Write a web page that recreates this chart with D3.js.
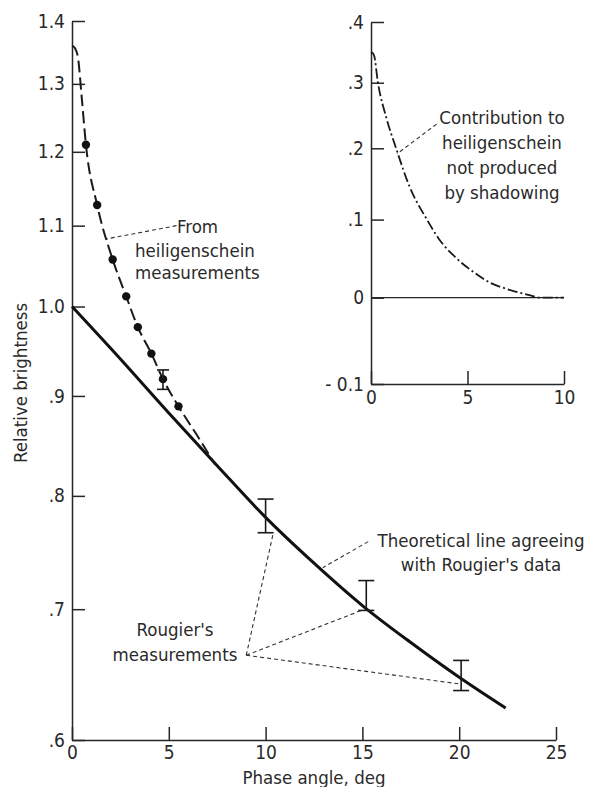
<!DOCTYPE html>
<html>
<head>
<meta charset="utf-8">
<script src="https://cdn.jsdelivr.net/npm/d3@7"></script>
<style>
  body { margin: 0; background: #fff; }
  text { font-family: "DejaVu Sans Condensed", "DejaVu Sans", sans-serif; fill: #2a2a2a; }
</style>
</head>
<body>
<div class="graphContainer"></div>
<script>
// main chart data (phase angle in deg, relative brightness)
var heiligPointX = [0.72, 1.3, 2.1, 2.8, 3.4, 4.1, 4.7, 5.5];
var heiligPointY = [1.21, 1.127, 1.057, 1.012, 0.976, 0.946, 0.918, 0.889];
var heiligCurveX = [0, 0.15, 0.3, 0.5, 0.72, 1.3, 2.1, 2.8, 3.4, 4.1, 4.7, 5.5, 6.4, 7.4];
var heiligCurveY = [1.36, 1.356, 1.343, 1.28, 1.21, 1.127, 1.057, 1.012, 0.976, 0.946, 0.918, 0.889, 0.861, 0.83];
var heiligErrX = [4.7];
var heiligErrLo = [0.907];
var heiligErrHi = [0.928];

var theoryX = [0, 2.5, 5, 7.5, 10, 12.5, 15, 17.5, 20, 22.4];
var theoryY = [1.0, 0.94, 0.882, 0.829, 0.78, 0.739, 0.703, 0.673, 0.646, 0.623];

var rougierX = [10, 15.2, 20.1];
var rougierLo = [0.766, 0.699, 0.636];
var rougierHi = [0.797, 0.724, 0.659];

// inset data (contribution not produced by shadowing)
var insetX = [0, 0.15, 0.36, 0.8, 1.3, 2.0, 2.9, 3.5, 4.4, 5.3, 6.2, 7.0, 8.2, 8.8, 10];
var insetY = [0.35, 0.345, 0.3, 0.245, 0.2, 0.145, 0.1, 0.075, 0.05, 0.032, 0.018, 0.011, 0.003, 0, 0];

// ticks
var mainXTicks = [0, 5, 10, 15, 20, 25];
var mainYTicks = [0.6, 0.7, 0.8, 0.9, 1.0, 1.1, 1.2, 1.3, 1.4];
var mainYLabels = [".6", ".7", ".8", ".9", "1.0", "1.1", "1.2", "1.3", "1.4"];
var insetXTicks = [0, 5, 10];
var insetYTicks = [-0.1, 0, 0.1, 0.2, 0.3, 0.4];
var insetYLabels = ["- 0.1", "0", ".1", ".2", ".3", ".4"];

var width = 589;
var height = 787;
var ink = "#262626";

var svgContainer = d3
  .select(".graphContainer")
  .append("svg")
  .attr("width", width)
  .attr("height", height);

var xScale = d3.scaleLinear().domain([0, 25]).range([72, 556]);
var yScale = d3.scaleLog().domain([0.6, 1.4]).range([740, 21]);

var ixScale = d3.scaleLinear().domain([0, 10]).range([371, 564]);
var iyLog = d3.scaleLog().domain([0.9, 1.4]).range([384, 22]);
var iyScale = (v) => iyLog(1 + v);

function styleAxis(g) {
  g.attr("font-family", '"DejaVu Sans Condensed", "DejaVu Sans", sans-serif')
    .attr("font-size", 19);
  g.selectAll("path, line").attr("stroke", ink).attr("stroke-width", 1.5);
  g.selectAll("text").attr("fill", ink);
}

// main axes
svgContainer
  .append("g")
  .attr("transform", "translate(0,740)")
  .call(
    d3.axisBottom(xScale).tickValues(mainXTicks).tickSize(-13).tickSizeOuter(0).tickPadding(6)
  )
  .call(styleAxis);

svgContainer
  .append("g")
  .attr("transform", "translate(72,0)")
  .call(
    d3
      .axisLeft(yScale)
      .tickValues(mainYTicks)
      .tickFormat((d, i) => mainYLabels[i])
      .tickSize(-13)
      .tickSizeOuter(0)
      .tickPadding(7)
  )
  .call(styleAxis);

// axis titles
svgContainer
  .append("text")
  .attr("transform", "translate(27,383) rotate(-90)")
  .attr("text-anchor", "middle")
  .style("font-size", "18.5px")
  .text("Relative brightness");

svgContainer
  .append("text")
  .attr("x", 314)
  .attr("y", 784)
  .attr("text-anchor", "middle")
  .style("font-size", "18.5px")
  .text("Phase angle, deg");

// theoretical line
var theoryData = theoryX.map((x, i) => [x, theoryY[i]]);
svgContainer
  .append("path")
  .datum(theoryData)
  .attr("fill", "none")
  .attr("stroke", "#111")
  .attr("stroke-width", 3)
  .attr(
    "d",
    d3.line().x((d) => xScale(d[0])).y((d) => yScale(d[1])).curve(d3.curveMonotoneX)
  );

// heiligenschein dashed curve
var heiligData = heiligCurveX.map((x, i) => [x, heiligCurveY[i]]);
svgContainer
  .append("path")
  .datum(heiligData)
  .attr("fill", "none")
  .attr("stroke", "#1a1a1a")
  .attr("stroke-width", 2)
  .attr("stroke-dasharray", "12,5")
  .attr(
    "d",
    d3.line().x((d) => xScale(d[0])).y((d) => yScale(d[1])).curve(d3.curveMonotoneX)
  );

svgContainer
  .selectAll("circle.dot")
  .data(heiligPointX)
  .enter()
  .append("circle")
  .attr("class", "dot")
  .attr("cx", (d) => xScale(d))
  .attr("cy", (d, i) => yScale(heiligPointY[i]))
  .attr("r", 4.2)
  .style("fill", "#111");

// error bars
function errorBars(xs, lo, hi, cap) {
  var g = svgContainer.append("g").attr("stroke", "#1a1a1a").attr("stroke-width", 1.6);
  xs.forEach(function (x, i) {
    var px = xScale(x);
    g.append("line").attr("x1", px).attr("x2", px).attr("y1", yScale(lo[i])).attr("y2", yScale(hi[i]));
    g.append("line").attr("x1", px - cap).attr("x2", px + cap).attr("y1", yScale(lo[i])).attr("y2", yScale(lo[i]));
    g.append("line").attr("x1", px - cap).attr("x2", px + cap).attr("y1", yScale(hi[i])).attr("y2", yScale(hi[i]));
  });
}
errorBars(rougierX, rougierLo, rougierHi, 8);
errorBars(heiligErrX, heiligErrLo, heiligErrHi, 6);

// annotations: leader lines in data units
var leaders = [
  [[5.4, 1.1], [1.8, 1.083]],
  [[9.0, 0.663], [10.4, 0.766]],
  [[9.0, 0.663], [14.95, 0.699]],
  [[9.0, 0.663], [20.0, 0.641]],
  [[15.3, 0.758], [12.95, 0.735]]
];
leaders.forEach(function (l) {
  svgContainer
    .append("line")
    .attr("x1", xScale(l[0][0]))
    .attr("y1", yScale(l[0][1]))
    .attr("x2", xScale(l[1][0]))
    .attr("y2", yScale(l[1][1]))
    .attr("stroke", "#333")
    .attr("stroke-width", 1.1)
    .attr("stroke-dasharray", "4,3");
});

function label(lines, x, y, anchor, gap) {
  var t = svgContainer
    .append("text")
    .attr("text-anchor", anchor)
    .style("font-size", "18.5px");
  lines.forEach(function (s, i) {
    t.append("tspan").attr("x", x).attr("y", y + i * gap).text(s);
  });
}
svgContainer.append("text").attr("x", 177).attr("y", 233).style("font-size", "18.5px").text("From");
label(["heiligenschein", "measurements"], 135, 257, "start", 22);
label(["Rougier's", "measurements"], 175, 636, "middle", 25);
label(["Theoretical line agreeing", "with Rougier's data"], 481, 547, "middle", 24);

// inset
svgContainer
  .append("g")
  .attr("transform", "translate(0,384)")
  .call(
    d3.axisBottom(ixScale).tickValues(insetXTicks).tickSize(-13).tickSizeOuter(0).tickPadding(7)
  )
  .call(styleAxis);

svgContainer
  .append("g")
  .attr("transform", "translate(371,0)")
  .call(
    d3
      .axisLeft(iyLog)
      .tickValues(insetYTicks.map((v) => 1 + v))
      .tickFormat((d, i) => insetYLabels[i])
      .tickSize(-13)
      .tickSizeOuter(0)
      .tickPadding(7)
  )
  .call(styleAxis);

// zero line
svgContainer
  .append("line")
  .attr("x1", ixScale(0))
  .attr("x2", ixScale(10))
  .attr("y1", iyScale(0))
  .attr("y2", iyScale(0))
  .attr("stroke", ink)
  .attr("stroke-width", 1.3);

var insetData = insetX.map((x, i) => [x, insetY[i]]);
svgContainer
  .append("path")
  .datum(insetData)
  .attr("fill", "none")
  .attr("stroke", "#1a1a1a")
  .attr("stroke-width", 1.8)
  .attr("stroke-dasharray", "10,3,2,3")
  .attr(
    "d",
    d3.line().x((d) => ixScale(d[0])).y((d) => iyScale(d[1])).curve(d3.curveMonotoneX)
  );

svgContainer
  .append("line")
  .attr("x1", ixScale(3.4))
  .attr("y1", iyScale(0.236))
  .attr("x2", ixScale(1.35))
  .attr("y2", iyScale(0.192))
  .attr("stroke", "#333")
  .attr("stroke-width", 1.1)
  .attr("stroke-dasharray", "4,3");

label(["Contribution to", "heiligenschein", "not produced", "by shadowing"], 502, 124, "middle", 25);
</script>
</body>
</html>
